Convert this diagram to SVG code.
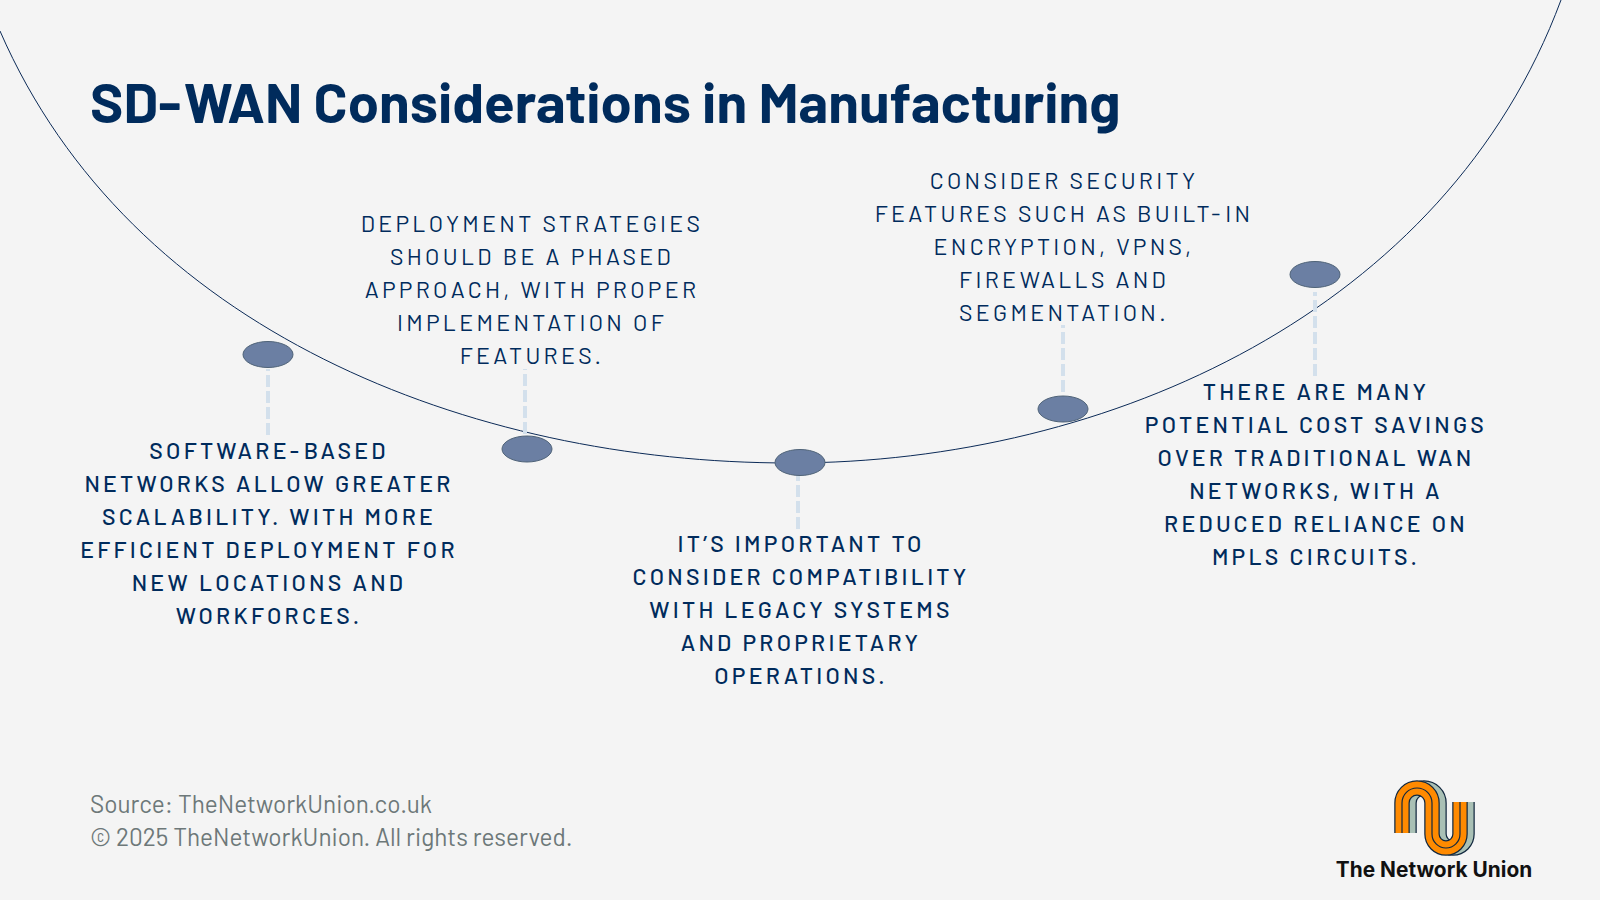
<svg xmlns="http://www.w3.org/2000/svg" width="1600" height="900" viewBox="0 0 1600 900">
<style>
.t{font-family:"Barlow","Roboto","Liberation Sans",sans-serif;font-size:23px;font-weight:500;letter-spacing:3.25px;fill:#002b5c;text-anchor:middle}
.l{font-weight:400;letter-spacing:3.3px}
.d{fill:#6b7fa3;stroke:#4f6378;stroke-width:1}
.c{stroke:#d3e0ec;stroke-width:4;stroke-dasharray:12 4;fill:none}
.s{font-family:"Barlow","Roboto","Liberation Sans",sans-serif;font-size:24.35px;font-weight:400;fill:#6d7879}
.o{fill:none;stroke:#12283f;stroke-width:15.5}
.g{fill:none;stroke:#a9c0b5;stroke-width:13}
.f{fill:none;stroke:#ff8a00;stroke-width:13}
.m{fill:none;stroke:#12283f;stroke-width:1.2}
</style>
<defs>
<path id="wave" d="M1402 833V803A15 15 0 0 1 1432 803V834A14 14 0 0 0 1460 834V802"/>
</defs>
<rect width="1600" height="900" fill="#f4f4f4"/>
<path d="M0 31C130 330 470 463 790 463C1110 463 1446 310 1561 0" fill="none" stroke="#0b2a57" stroke-width="1"/>
<text x="90" y="123" font-family="Barlow,Roboto,'Liberation Sans',sans-serif" font-weight="700" font-size="56.2" fill="#002b5c">SD-<tspan dx="2.5">WAN</tspan> Considerations in Manufacturing</text>
<g id="connectors"><path class="c" d="M268 435V369M525 434V369M798 529V476M1063 392V325M1315 376V292"/></g>
<g id="n1"><ellipse class="d" cx="268" cy="354.5" rx="25" ry="13"/><text class="t" x="269" y="459">SOFTWARE-<tspan dx="1.5">BASED</tspan></text><text class="t" x="269" y="492">NETWORKS ALLOW GREATER</text><text class="t" x="269" y="525">SCALABILITY. WITH MORE</text><text class="t" x="269" y="558">EFFICIENT DEPLOYMENT FOR</text><text class="t" x="269" y="591">NEW LOCATIONS AND</text><text class="t" x="269" y="624">WORKFORCES.</text></g>
<g id="n2"><ellipse class="d" cx="527" cy="449" rx="25" ry="13"/><text class="t l" x="532" y="232">DEPLOYMENT STRATEGIES</text><text class="t l" x="532" y="265">SHOULD BE A PHASED</text><text class="t l" x="532" y="298">APPROACH, WITH PROPER</text><text class="t l" x="532" y="331">IMPLEMENTATION OF</text><text class="t l" x="532" y="364">FEATURES.</text></g>
<g id="n3"><ellipse class="d" cx="800" cy="462.5" rx="25" ry="13"/><text class="t" x="801" y="552">IT’S IMPORTANT TO</text><text class="t" x="801" y="585">CONSIDER COMPATIBILITY</text><text class="t" x="801" y="618">WITH LEGACY SYSTEMS</text><text class="t" x="801" y="651">AND PROPRIETARY</text><text class="t" x="801" y="684">OPERATIONS.</text></g>
<g id="n4"><ellipse class="d" cx="1063" cy="409" rx="25" ry="13"/><text class="t l" x="1064" y="188.500">CONSIDER SECURITY</text><text class="t l" x="1064" y="221.500">FEATURES SUCH AS BUILT-<tspan dx="1.5">IN</tspan></text><text class="t l" x="1064" y="254.500">ENCRYPTION, VPNS,</text><text class="t l" x="1064" y="287.500">FIREWALLS AND</text><text class="t l" x="1064" y="320.500">SEGMENTATION.</text></g>
<g id="n5"><ellipse class="d" cx="1315" cy="274.500" rx="25" ry="13"/><text class="t" x="1316" y="400">THERE ARE MANY</text><text class="t" x="1316" y="433">POTENTIAL COST SAVINGS</text><text class="t" x="1316" y="466">OVER TRADITIONAL WAN</text><text class="t" x="1316" y="499">NETWORKS, WITH A</text><text class="t" x="1316" y="532">REDUCED RELIANCE ON</text><text class="t" x="1316" y="565">MPLS CIRCUITS.</text></g>
<text class="s" x="90" y="813">Source: TheNetworkUnion.co.uk</text>
<text class="s" x="90" y="846">© 2025 TheNetworkUnion. All rights reserved.</text>
<g id="logo">
<use href="#wave" x="7" class="o"/><use href="#wave" x="7" class="g"/>
<use href="#wave" class="o"/><use href="#wave" class="f"/><use href="#wave" class="m"/>
<text x="1434" y="877" text-anchor="middle" font-family="Inter,'Liberation Sans',sans-serif" font-weight="700" font-size="20.85" fill="#111">The Network Union</text></g>
</svg>
